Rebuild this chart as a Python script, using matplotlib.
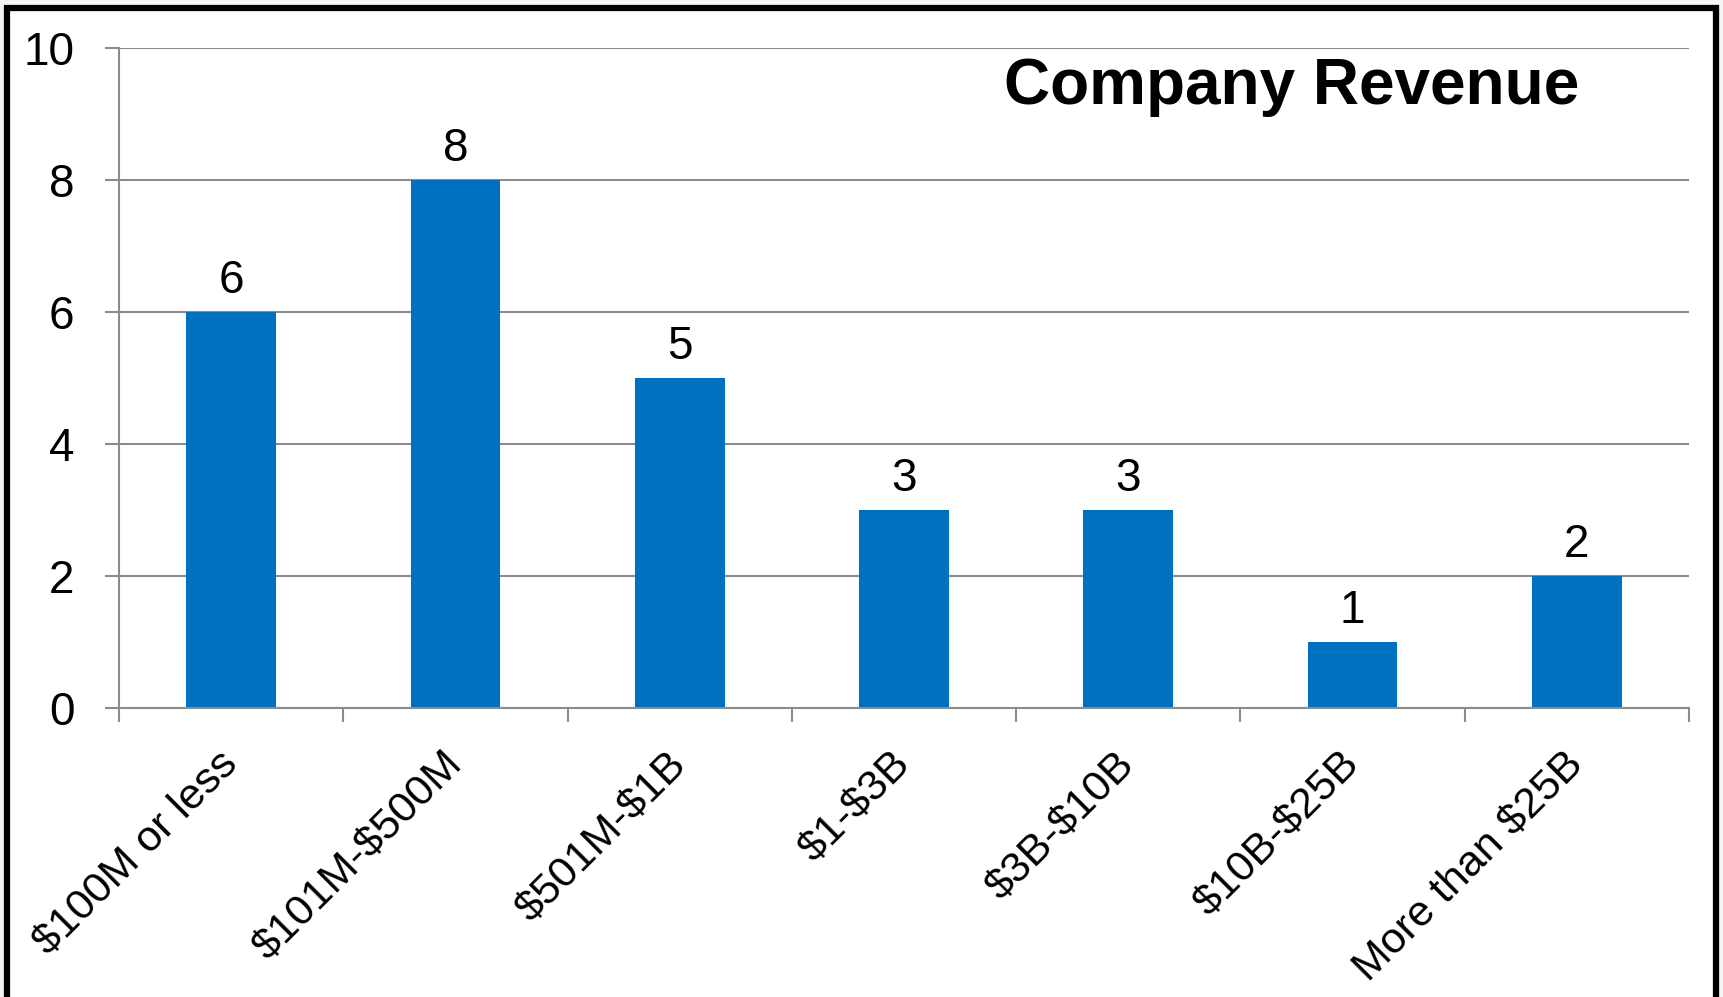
import matplotlib.pyplot as plt
from matplotlib.patches import Rectangle

plt.rcParams['font.family'] = ['Liberation Sans', 'DejaVu Sans']
plt.rcParams['text.parse_math'] = False

categories = ["$100M or less", "$101M-$500M", "$501M-$1B", "$1-$3B",
              "$3B-$10B", "$10B-$25B", "More than $25B"]
counts = [6, 8, 5, 3, 3, 1, 2]
y_ticks = [0, 2, 4, 6, 8, 10]

W, H = 1723, 997
fig = plt.figure(figsize=(W / 100, H / 100), dpi=100, facecolor="#f4f4f4")

# white chart area with thick black frame (bottom edge runs off the image)
fig.patches.append(Rectangle((7 / W, -10 / H), (1716 - 7) / W, (989 + 10) / H,
                             transform=fig.transFigure, facecolor="white",
                             edgecolor="black", linewidth=4.5, zorder=-1))

ax = fig.add_axes([119 / W, 1 - 708 / H, (1689 - 119) / W, (708 - 48) / H])
ax.set_facecolor("none")
ax.set_zorder(1)

gray = "#8c8c8c"
x = range(len(categories))
bars = ax.bar(x, counts, width=0.4, color="#0070C0", zorder=3)

for xi, v in zip(x, counts):
    ax.annotate(str(v), (xi, v), xytext=(0, 14), textcoords="offset points",
                ha="center", va="baseline", fontsize=33)

ax.set_xlim(-0.5, len(categories) - 0.5)
ax.set_ylim(0, 10)
ax.set_yticks(y_ticks)
ax.set_yticklabels([str(t) for t in y_ticks], fontsize=33)
ax.tick_params(axis="y", length=10, width=1.5, color=gray, pad=22)

# ticks on category boundaries, labels at category centres
ax.set_xticks([i - 0.5 for i in range(len(categories) + 1)])
ax.set_xticklabels([])
ax.set_xticks(list(x), minor=True)
ax.set_xticklabels(categories, minor=True, fontsize=31, rotation=45,
                   ha="right", va="center", rotation_mode="anchor")
ax.tick_params(axis="x", which="major", length=10, width=1.5, color=gray)
ax.tick_params(axis="x", which="minor", length=0, pad=36)

ax.grid(axis="y", color=gray, linewidth=1.5, zorder=0)
for s in ["top", "right"]:
    ax.spines[s].set_visible(False)
for s in ["left", "bottom"]:
    ax.spines[s].set_color(gray)
    ax.spines[s].set_linewidth(1.5)
ax.spines["bottom"].set_zorder(4)

fig.text(1292 / W, 1 - 104 / H, "Company Revenue", ha="center", va="baseline",
         fontsize=46, fontweight="bold", zorder=2)

fig.savefig("out.png", dpi=100, facecolor=fig.get_facecolor())
